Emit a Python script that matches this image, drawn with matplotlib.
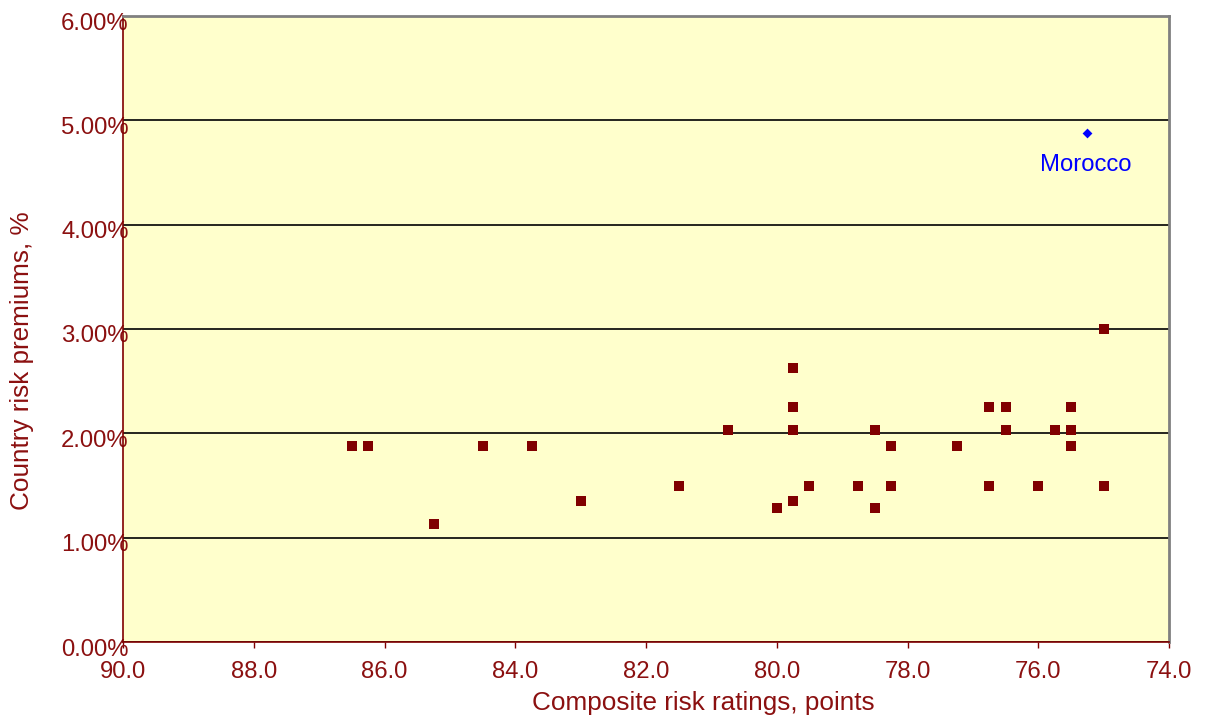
import matplotlib
matplotlib.use("Agg")
import matplotlib.pyplot as plt
from matplotlib.ticker import FuncFormatter, MultipleLocator
from matplotlib.transforms import ScaledTranslation

plt.rcParams['font.family'] = ['Liberation Sans', 'DejaVu Sans']

# Composite risk ratings (points) and country risk premiums (%)
ratings = [86.5, 86.25, 85.25, 84.5, 83.75, 83.0, 81.5, 80.75, 80.0,
           79.75, 79.75, 79.75, 79.75, 79.5, 78.75, 78.5, 78.5, 78.25, 78.25,
           77.25, 76.75, 76.75, 76.5, 76.5, 76.0, 75.75, 75.5, 75.5, 75.5,
           75.0, 75.0]
premiums = [1.88, 1.88, 1.13, 1.88, 1.88, 1.35, 1.50, 2.03, 1.28,
            2.63, 2.25, 2.03, 1.35, 1.50, 1.50, 2.03, 1.28, 1.88, 1.50,
            1.88, 2.25, 1.50, 2.25, 2.03, 1.50, 2.03, 2.25, 2.03, 1.88,
            3.00, 1.50]
highlight_name = "Morocco"
highlight_rating = [75.25]
highlight_premium = [4.88]

dark_red = '#800000'
text_red = '#8B1010'

fig = plt.figure(figsize=(12.09, 7.2), dpi=100)
ax = fig.add_axes([123/1209, 78/720, 1046/1209, 626/720])
ax.set_facecolor('#FFFFCC')

ax.scatter(ratings, premiums, marker='s', s=7.2**2, color=dark_red,
           linewidths=0, zorder=3)
ax.scatter(highlight_rating, highlight_premium, marker='D', s=5.0**2,
           color='#0000FF', linewidths=0, zorder=3)
ax.annotate(highlight_name, (highlight_rating[0], highlight_premium[0]),
            xytext=(-1, -23), textcoords='offset points', ha='center',
            va='center', color='#0000FF', fontsize=17.2)

ax.set_xlim(90, 74)
ax.set_ylim(0, 6)
ax.xaxis.set_major_locator(MultipleLocator(2))
ax.yaxis.set_major_locator(MultipleLocator(1))
ax.xaxis.set_major_formatter(FuncFormatter(lambda v, p: f"{v:.1f}"))
ax.yaxis.set_major_formatter(FuncFormatter(lambda v, p: f"{v:.2f}%"))

ax.grid(axis='y', color='black', linewidth=1.2, zorder=1)
ax.set_axisbelow(True)

for s in ['top', 'right']:
    ax.spines[s].set_color('#808080')
    ax.spines[s].set_linewidth(2)
for s in ['left', 'bottom']:
    ax.spines[s].set_color(dark_red)
    ax.spines[s].set_linewidth(1.2)

ax.tick_params(axis='x', direction='out', length=4, width=1, color=dark_red,
               labelcolor=text_red, labelsize=17.2, pad=10)
ax.tick_params(axis='y', length=0, labelcolor=text_red, labelsize=17.2, pad=-4)
off = ScaledTranslation(0, -5/100, fig.dpi_scale_trans)
for lbl in ax.get_yticklabels():
    lbl.set_transform(lbl.get_transform() + off)

ax.set_xlabel('Composite risk ratings, points', color=text_red, fontsize=18.8)
ax.set_ylabel('Country risk premiums, %', color=text_red, fontsize=18.8)
ax.xaxis.set_label_coords(0.555, -0.0974)
ax.xaxis.label.set_va('center')
ax.yaxis.set_label_coords(-0.0966, 0.449)
ax.yaxis.label.set_va('center')

fig.savefig('out.png', dpi=100, facecolor='white')
